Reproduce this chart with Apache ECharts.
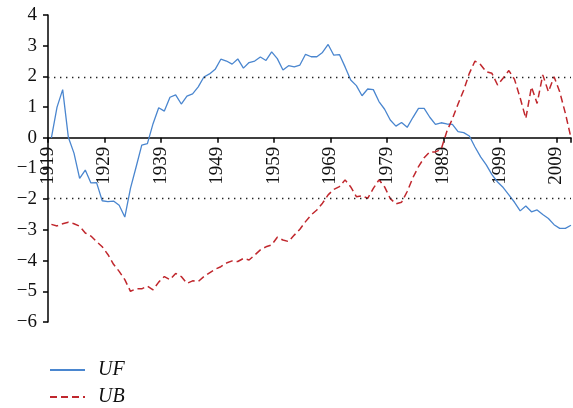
<!DOCTYPE html>
<html>
<head>
<meta charset="utf-8">
<script src="https://cdn.jsdelivr.net/npm/echarts@6/dist/echarts.min.js"></script>
<style>
  html, body { margin: 0; padding: 0; background: #fff; }
  #chart { width: 573px; height: 408px; }
</style>
</head>
<body>
<div id="chart"></div>
<script>
// years 1919 - 2011
const firstYear = 1919
const years = []
for (let y = firstYear; y <= 2011; y++) years.push(y)

// forward statistic
const ufValues = [
  0.0, 1.0, 1.57, 0.02, -0.5, -1.32, -1.05, -1.47, -1.46, -2.05,
  -2.08, -2.06, -2.2, -2.58, -1.65, -0.95, -0.24, -0.19, 0.46, 0.98,
  0.87, 1.32, 1.4, 1.1, 1.36, 1.43, 1.66, 1.98, 2.08, 2.23,
  2.56, 2.5, 2.4, 2.57, 2.27, 2.45, 2.5, 2.63, 2.52, 2.8,
  2.58, 2.21, 2.35, 2.31, 2.37, 2.72, 2.64, 2.64, 2.78, 3.04,
  2.69, 2.71, 2.31, 1.88, 1.7, 1.37, 1.59, 1.57, 1.18, 0.93,
  0.58, 0.38, 0.5, 0.34, 0.66, 0.96, 0.96, 0.67, 0.44, 0.49,
  0.45, 0.44, 0.2, 0.17, 0.06, -0.3, -0.62, -0.88, -1.2, -1.44,
  -1.62, -1.86, -2.1, -2.38, -2.22, -2.41, -2.35, -2.5, -2.63, -2.83,
  -2.95, -2.95, -2.85
]

// backward statistic
const ubValues = [
  -2.82, -2.87, -2.8, -2.75, -2.8, -2.88, -3.1, -3.2, -3.38, -3.55,
  -3.8, -4.12, -4.35, -4.62, -5.0, -4.92, -4.92, -4.83, -4.95, -4.7,
  -4.52, -4.62, -4.42, -4.52, -4.74, -4.66, -4.68, -4.52, -4.4, -4.28,
  -4.2, -4.08, -4.01, -4.03, -3.93, -3.98, -3.82, -3.65, -3.55, -3.49,
  -3.24, -3.33, -3.38, -3.17, -2.98, -2.73, -2.51, -2.35, -2.13, -1.86,
  -1.68, -1.59, -1.37, -1.6, -1.92, -1.89, -1.97, -1.65, -1.37, -1.6,
  -1.98, -2.15, -2.1, -1.75, -1.3, -0.94, -0.65, -0.46, -0.46, -0.38,
  0.2, 0.62, 1.1, 1.55, 2.1, 2.5, 2.38, 2.15, 2.1, 1.72,
  1.95, 2.19, 1.9, 1.3, 0.63, 1.66, 1.12, 2.05, 1.5, 1.99,
  1.5, 0.8, 0.0
]

// significance level lines
const critical = [1.96, -1.96]

// tick labels sit a little left of the plotted years
const tickShift = 0.6
const serif = 'Liberation Serif'

const gridTop = 15
const gridHeight = 307
const yMin = -6
const yMax = 4

const chart = echarts.init(document.getElementById('chart'))

chart.setOption({
  animation: false,
  grid: { left: 48, right: 2, top: gridTop, height: gridHeight },
  legend: {
    orient: 'vertical',
    left: 49,
    top: 360,
    padding: 0,
    itemWidth: 35,
    itemHeight: 14,
    itemGap: 7,
    itemStyle: { opacity: 0 },
    data: ['UF', 'UB'],
    textStyle: {
      fontFamily: serif,
      fontStyle: 'italic',
      fontSize: 20,
      color: '#111',
      padding: [0, 0, 0, 8]
    }
  },
  xAxis: {
    type: 'value',
    min: firstYear - tickShift,
    max: years[years.length - 1],
    interval: 10,
    // lift the axis up to the zero line
    offset: -gridHeight * (0 - yMin) / (yMax - yMin),
    splitLine: { show: false },
    axisLine: { onZero: false, lineStyle: { color: '#000', width: 1.5 } },
    axisTick: { length: 5, lineStyle: { color: '#000', width: 1.5 } },
    axisLabel: {
      rotate: 90,
      margin: 9,
      fontFamily: serif,
      fontSize: 19,
      color: '#111',
      formatter: v => {
        const y = v + tickShift
        const r = Math.round(y)
        if (Math.abs(y - r) > 0.01 || (r - firstYear) % 10 !== 0) return ''
        return String(r)
      }
    }
  },
  yAxis: {
    type: 'value',
    min: yMin,
    max: yMax,
    interval: 1,
    splitLine: { show: false },
    axisLine: { show: true, lineStyle: { color: '#000', width: 1.5 } },
    axisTick: { show: true, length: 5, lineStyle: { color: '#000', width: 1.5 } },
    axisLabel: {
      margin: 11,
      fontFamily: serif,
      fontSize: 19,
      color: '#111',
      formatter: v => String(v).replace('-', '\u2212')
    }
  },
  series: [
    {
      name: 'UF',
      type: 'line',
      symbol: 'none',
      data: years.map((y, i) => [y, ufValues[i]]),
      lineStyle: { color: '#4a86cf', width: 1.3 },
      itemStyle: { color: '#4a86cf' },
      markLine: {
        silent: true,
        symbol: 'none',
        label: { show: false },
        lineStyle: { color: '#222', width: 1.4, type: [1.4, 4.6] },
        data: critical.map(c => ({ yAxis: c }))
      }
    },
    {
      name: 'UB',
      type: 'line',
      symbol: 'none',
      data: years.map((y, i) => [y, ubValues[i]]),
      lineStyle: { color: '#c0272d', width: 1.5, type: [7, 4] },
      itemStyle: { color: '#c0272d' }
    }
  ]
})
</script>
</body>
</html>
